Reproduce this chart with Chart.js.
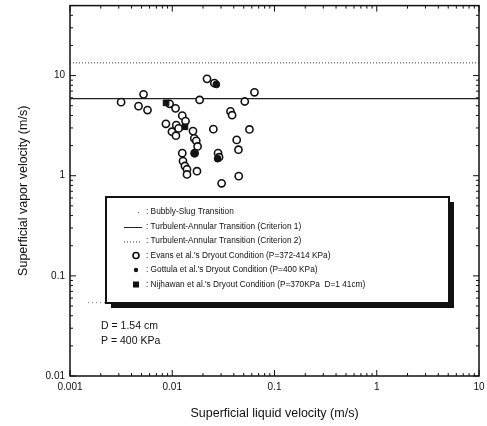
<!DOCTYPE html>
<html>
<head>
<meta charset="utf-8">
<script src="https://cdn.jsdelivr.net/npm/chart.js@4"></script>
<style>
  html, body { margin: 0; padding: 0; background: #fff; }
</style>
</head>
<body>
<canvas id="chart" width="487" height="426"></canvas>
<script>
const FONT = "'Liberation Sans', Arial, sans-serif";

// axes
const xTicks = [0.001, 0.01, 0.1, 1, 10];
const yTicks = [0.01, 0.1, 1, 10];
const xRange = [0.001, 10];
const yRange = [0.01, 50];

// transition lines (liquid velocity from / to, vapor velocity)
const bubblySlugX = [0.0015, 0.05];
const bubblySlugY = [0.054, 0.054];
const criterion1X = [0.001, 10];
const criterion1Y = [5.9, 5.9];
const criterion2X = [0.001, 10];
const criterion2Y = [13.4, 13.4];

// Evans et al. dryout points
const evansX = [0.00316, 0.00524, 0.00468, 0.00573, 0.00942, 0.01077, 0.00867, 0.01094, 0.00993,
  0.01154, 0.01087, 0.01253, 0.01349, 0.01595, 0.01643, 0.01718, 0.0177, 0.01655, 0.01253,
  0.01273, 0.01331, 0.01393, 0.01393, 0.01745, 0.01852, 0.02188, 0.02582, 0.02523, 0.02806,
  0.0287, 0.0304, 0.0371, 0.0385, 0.0512, 0.0637, 0.0569, 0.0427, 0.0444, 0.0447];
const evansY = [5.43, 6.5, 4.95, 4.53, 5.22, 4.71, 3.3, 3.2, 2.75,
  2.97, 2.51, 3.98, 3.51, 2.79, 2.36, 2.23, 1.96, 1.68, 1.68,
  1.4, 1.25, 1.16, 1.03, 1.11, 5.71, 9.28, 8.4, 2.92, 1.68,
  1.53, 0.84, 4.39, 4.02, 5.51, 6.81, 2.9, 2.28, 1.82, 0.99];

// Gottula et al. dryout points
const gottulaX = [0.027, 0.0278, 0.0165];
const gottulaY = [8.16, 1.48, 1.66];

// Nijhawan et al. dryout points
const nijhawanX = [0.0087, 0.0133];
const nijhawanY = [5.34, 3.08];

const toPoints = (xs, ys) => xs.map((x, i) => ({ x, y: ys[i] }));

const lineSet = (label, xs, ys, dash, color, width) => ({
  label,
  type: 'line',
  data: toPoints(xs, ys),
  borderColor: color,
  borderWidth: width,
  borderDash: dash,
  pointRadius: 0,
  fill: false,
  order: 3,
});

const datasets = [
  lineSet(': Bubbly-Slug Transition', bubblySlugX, bubblySlugY, [1, 3], '#777', 1),
  lineSet(': Turbulent-Annular Transition (Criterion 1)', criterion1X, criterion1Y, [], '#222', 1.2),
  lineSet(': Turbulent-Annular Transition (Criterion 2)', criterion2X, criterion2Y, [1, 2], '#333', 1),
  {
    label: ": Evans et al.'s Dryout Condition (P=372-414 KPa)",
    data: toPoints(evansX, evansY),
    pointStyle: 'circle',
    pointRadius: 3.6,
    borderWidth: 1.6,
    borderColor: '#111',
    backgroundColor: '#fff',
    order: 2,
  },
  {
    label: ": Gottula et al.'s Dryout Condition (P=400 KPa)",
    data: toPoints(gottulaX, gottulaY),
    pointStyle: 'circle',
    pointRadius: 3.4,
    borderWidth: 1,
    borderColor: '#111',
    backgroundColor: '#111',
    order: 1,
  },
  {
    label: ": Nijhawan et al.'s Dryout Condition (P=370KPa  D=1 41cm)",
    data: toPoints(nijhawanX, nijhawanY),
    pointStyle: 'rect',
    pointRadius: 4,
    borderWidth: 1,
    borderColor: '#111',
    backgroundColor: '#111',
    order: 1,
  },
];

// frame with inward major/minor ticks on all four sides
const frame = {
  id: 'frame',
  afterDraw(chart) {
    const { ctx, chartArea: a, scales: { x, y } } = chart;
    ctx.save();
    ctx.strokeStyle = '#111';
    ctx.lineWidth = 1.5;
    ctx.strokeRect(a.left, a.top, a.right - a.left, a.bottom - a.top);
    ctx.lineWidth = 1;
    const tick = (x1, y1, x2, y2) => {
      ctx.beginPath();
      ctx.moveTo(x1, y1);
      ctx.lineTo(x2, y2);
      ctx.stroke();
    };
    xTicks.forEach((d) => {
      for (let m = 1; m < 10; m += 1) {
        const v = d * m;
        if (v > xRange[1] + 1e-9) break;
        const px = x.getPixelForValue(v);
        const len = m === 1 ? 6 : 3;
        tick(px, a.bottom, px, a.bottom - len);
        tick(px, a.top, px, a.top + len);
      }
    });
    yTicks.forEach((d) => {
      for (let m = 1; m < 10; m += 1) {
        const v = d * m;
        if (v > yRange[1] + 1e-9) break;
        const py = y.getPixelForValue(v);
        const len = m === 1 ? 6 : 3;
        tick(a.left, py, a.left + len, py);
        tick(a.right, py, a.right - len, py);
      }
    });
    ctx.restore();
  },
};

// boxed legend inside the plot, plus the D / P note
const legendBox = {
  id: 'legendBox',
  afterDatasetsDraw(chart) {
    const { ctx, chartArea: a } = chart;
    const left = a.left + 36;
    const top = 197;
    const w = 343;
    const h = 106;
    ctx.save();
    ctx.fillStyle = '#111';
    ctx.fillRect(left + 5, top + 5, w, h);
    ctx.fillStyle = '#fff';
    ctx.fillRect(left, top, w, h);
    ctx.strokeStyle = '#111';
    ctx.lineWidth = 2;
    ctx.strokeRect(left, top, w, h);

    ctx.font = `8.3px ${FONT}`;
    ctx.textBaseline = 'middle';
    ctx.fillStyle = '#111';
    const symX = left + 30;
    const textX = left + 40;
    chart.data.datasets.forEach((ds, i) => {
      const cy = top + 15 + i * 14.5;
      ctx.save();
      ctx.strokeStyle = ds.borderColor;
      ctx.fillStyle = ds.backgroundColor || '#111';
      if (ds.type === 'line') {
        if (i === 0) {
          ctx.fillStyle = '#666';
          ctx.fillRect(symX + 2, cy, 1, 1);
        } else {
          ctx.lineWidth = 1;
          ctx.setLineDash(ds.borderDash);
          ctx.beginPath();
          ctx.moveTo(symX - 12, cy + 1);
          ctx.lineTo(symX + 6, cy + 1);
          ctx.stroke();
        }
      } else if (ds.pointStyle === 'rect') {
        ctx.fillRect(symX - 3, cy - 3, 6, 6);
      } else if (i === 4) {
        ctx.beginPath();
        ctx.arc(symX, cy, 2.2, 0, Math.PI * 2);
        ctx.fill();
      } else {
        ctx.lineWidth = ds.borderWidth;
        ctx.beginPath();
        ctx.arc(symX, cy, 3, 0, Math.PI * 2);
        ctx.fill();
        ctx.stroke();
      }
      ctx.restore();
      ctx.fillText(ds.label, textX, cy);
    });

    ctx.font = `10.5px ${FONT}`;
    ctx.fillText('D = 1.54 cm', a.left + 31, 326);
    ctx.fillText('P = 400 KPa', a.left + 31, 341);
    ctx.restore();
  },
};

const ctx = document.getElementById('chart').getContext('2d');
// eslint-disable-next-line no-undef
const chart = new Chart(ctx, {
  type: 'scatter',
  data: { datasets },
  options: {
    responsive: false,
    animation: false,
    layout: { padding: { top: 3, right: 8, left: 0, bottom: 0 } },
    plugins: { legend: { display: false }, tooltip: { enabled: false } },
    scales: {
      x: {
        type: 'logarithmic',
        min: xRange[0],
        max: xRange[1],
        grid: { display: false, drawTicks: false },
        border: { display: false },
        afterBuildTicks: (s) => { s.ticks = xTicks.map((value) => ({ value })); },
        afterFit: (s) => {
          s.height = 50;
          s.paddingLeft = 0;
          s.paddingRight = 0;
        },
        ticks: {
          padding: 5,
          color: '#111',
          font: { family: FONT, size: 10 },
          maxRotation: 0,
          autoSkip: false,
          callback: (v) => String(v),
        },
        title: {
          display: true,
          text: 'Superficial liquid velocity (m/s)',
          color: '#111',
          font: { family: FONT, size: 12.5 },
          padding: { top: 0, bottom: 5 },
        },
      },
      y: {
        type: 'logarithmic',
        min: yRange[0],
        max: yRange[1],
        grid: { display: false, drawTicks: false },
        border: { display: false },
        afterBuildTicks: (s) => { s.ticks = yTicks.map((value) => ({ value })); },
        afterFit: (s) => {
          s.width = 70;
          s.paddingTop = 0;
          s.paddingBottom = 0;
        },
        ticks: {
          padding: 5,
          color: '#111',
          font: { family: FONT, size: 10 },
          autoSkip: false,
          callback: (v) => String(v),
        },
        title: {
          display: true,
          text: 'Superficial vapor velocity (m/s)',
          color: '#111',
          font: { family: FONT, size: 12.5 },
          padding: { top: 16, bottom: 0 },
        },
      },
    },
  },
  plugins: [legendBox, frame],
});
</script>
</body>
</html>
